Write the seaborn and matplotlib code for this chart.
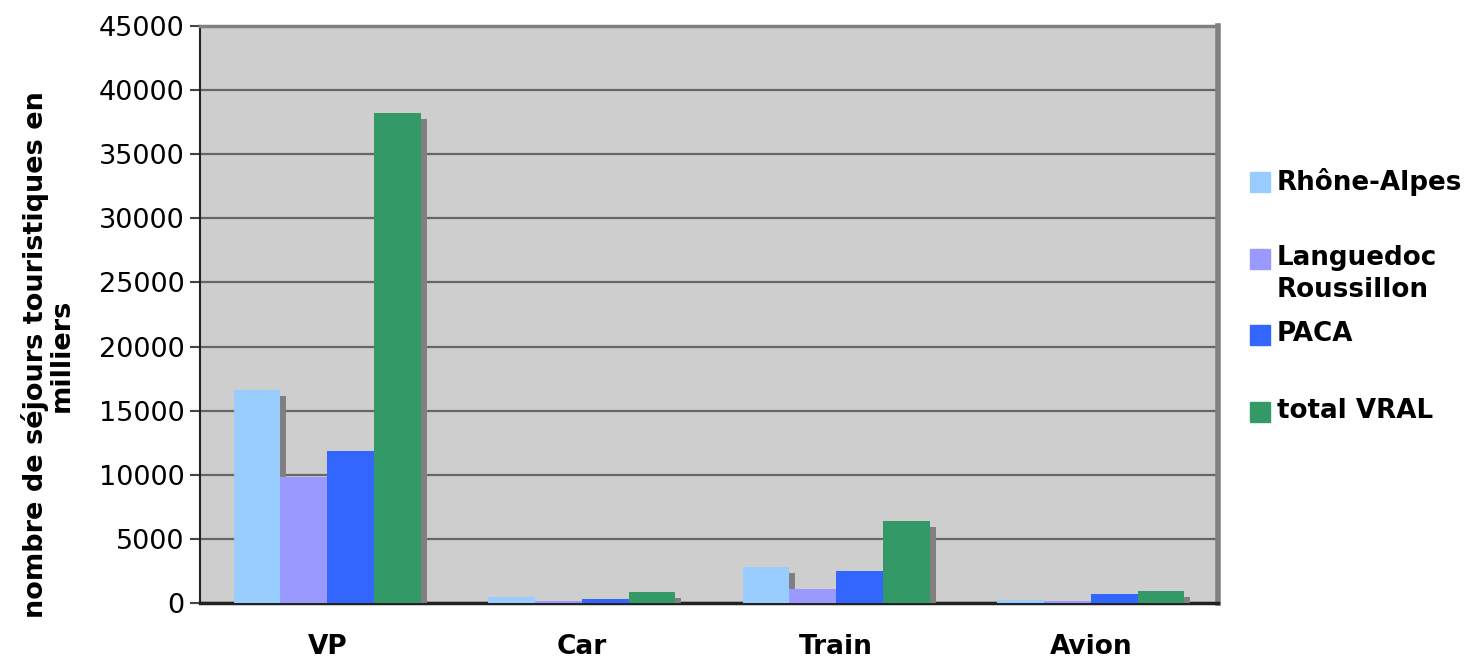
import matplotlib
matplotlib.use("Agg")
import matplotlib.pyplot as plt
import matplotlib.patheffects as pe
import seaborn as sns
import pandas as pd

categories = ["VP", "Car", "Train", "Avion"]
regions = ["Rhône-Alpes", "Languedoc\nRoussillon", "PACA", "total VRAL"]
rhone_alpes = [16600, 450, 2800, 230]
languedoc = [9800, 130, 1090, 130]
paca = [11850, 300, 2500, 730]
total_vral = [38200, 860, 6400, 940]
colors = ["#99CCFF", "#9999FF", "#3366FF", "#339966"]
yticks = list(range(0, 45001, 5000))

df = pd.DataFrame({
    "mode": categories * 4,
    "region": [r for r in regions for _ in categories],
    "value": rhone_alpes + languedoc + paca + total_vral,
})

sns.set_style("white")
plt.rcParams["font.family"] = ["DejaVu Sans"]
plt.rcParams["text.color"] = "black"
plt.rcParams["axes.labelcolor"] = "black"
plt.rcParams["xtick.color"] = "black"
plt.rcParams["ytick.color"] = "black"

W, H = 1467, 658
fig = plt.figure(figsize=(W / 100, H / 100), dpi=100)
ax = fig.add_axes([200 / W, 55 / H, 1018 / W, 577 / H])
ax.set_facecolor("#CECECE")

sns.barplot(data=df, x="mode", y="value", hue="region", palette=colors,
            width=0.735, saturation=1, ax=ax, legend=False, zorder=3)

# excel style drop shadow
shadow = [pe.SimplePatchShadow(offset=(4.3, -4.3), shadow_rgbFace="#808080", alpha=1), pe.Normal()]
for p in ax.patches:
    p.set_edgecolor("none")
    p.set_path_effects(shadow)

ax.set_ylim(0, 45000)
ax.set_xlim(-0.5, 3.5)
ax.set_yticks(yticks)
ax.set_yticklabels([str(t) for t in yticks], fontsize=19.5)
ax.yaxis.grid(True, color="#666666", linewidth=1.6, zorder=1)
ax.set_axisbelow(True)

ax.set_xticks(range(4))
ax.set_xticklabels(categories, fontsize=19, fontweight="bold")
ax.set_xticks([-0.5, 0.5, 1.5, 2.5, 3.5], minor=True)
ax.tick_params(axis="x", which="major", length=0, pad=22)
ax.tick_params(axis="x", which="minor", length=10, width=1.5, color="#444444", direction="out")
ax.tick_params(axis="y", length=7, width=1.5, color="#444444", direction="out", left=True, pad=4)

ax.set_xlabel("")
ax.set_ylabel("nombre de séjours touristiques en\nmilliers", fontsize=19.5,
              fontweight="bold", linespacing=1.0)
ax.yaxis.set_label_coords(-0.123, 0.43)

for s in ["left", "bottom"]:
    ax.spines[s].set_color("#222222")
    ax.spines[s].set_linewidth(1.5)
ax.spines["bottom"].set_linewidth(2.5)
ax.spines["top"].set_color("#808080")
ax.spines["top"].set_linewidth(2.5)
ax.spines["right"].set_color("#808080")
ax.spines["right"].set_linewidth(4)

# legend laid out like the excel one: equal spacing between entry tops
for i, (lab, col) in enumerate(zip(regions, colors)):
    top = 172 + i * 76.7
    fig.patches.append(plt.Rectangle((1250 / W, 1 - (top + 20) / H), 20 / W, 20 / H,
                                     transform=fig.transFigure, color=col, figure=fig))
    fig.text(1277 / W, 1 - (top - 4) / H, lab, fontsize=18.8, fontweight="bold",
             va="top", ha="left", linespacing=1.32)

fig.savefig("out.png", dpi=100)
plt.close(fig)
